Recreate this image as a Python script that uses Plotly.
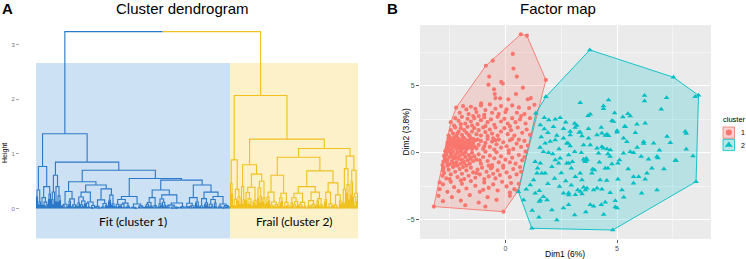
import plotly.graph_objects as go

W, H = 746, 259

# ---------------- dendrogram data ----------------
# internal node: (merge height, left, right); bundle of leaves: [n_leaves, top merge height]
BLUE_TREE = (1.37,
    (0.77, [5, 0.34], [10, 0.40]),
    (0.85,
        (0.61, [4, 0.30], [6, 0.40]),
        (0.70,
            (0.49, [16, 0.31], (0.43, [18, 0.30], [20, 0.36])),
            (0.55, [30, 0.22],
                (0.52, (0.34, [13, 0.20], [27, 0.25]),
                       (0.43, [15, 0.20], (0.30, [8, 0.18], [22, 0.22])))))))
YELLOW_TREE = (2.07,
    (0.89, [3, 0.46], [8, 0.35]),
    (1.27,
        (0.80, [4, 0.40], (0.63, [12, 0.39], [9, 0.50])),
        (1.10,
            (0.94, (0.61, [12, 0.30], [12, 0.28]),
                   (0.69, (0.40, [16, 0.28], [18, 0.30]),
                          (0.47, [9, 0.30], [9, 0.25]))),
            (0.96, [8, 0.73], [8, 0.70]))))
ROOT_HEIGHT = 3.24
FUZZ_RATIOS = [0.62, 0.35, 0.80, 0.45, 0.55, 0.28, 0.70, 0.40, 0.50, 0.66, 0.30,
               0.58, 0.75, 0.38, 0.48, 0.60, 0.33, 0.52, 0.44, 0.68, 0.25, 0.57]
SPLIT_FRACTIONS = [0.5, 0.35, 0.6, 0.45, 0.7, 0.3, 0.55, 0.4, 0.65]
HEIGHT_TICKS = [0, 1, 2, 3]
CLUSTER_NAMES = ["Fit (cluster 1)", "Frail (cluster 2)"]
BAND_TOP, BAND_BOTTOM = 2.665, -0.55

# ---------------- factor map data ----------------
red_points = [
    (0.69, 8.86), (0.96, 8.75), (-0.57, 6.89), (-0.88, 6.51), (0.33, 7.39), (0.36, 6.30),
    (1.81, 5.45), (0.51, 5.70), (-0.73, 5.70), (-0.76, 5.10), (-0.19, 5.30), (-0.12, 5.18),
    (-0.51, 4.75), (0.78, 4.87), (0.47, 4.40), (-0.48, 4.40), (-0.45, 4.10), (-0.24, 4.08),
    (0.13, 4.00), (1.14, 4.10), (1.00, 4.00), (-1.09, 3.70), (-0.70, 3.62), (1.30, 3.60),
    (-2.21, 3.38), (-1.90, 3.50), (-1.75, 3.25), (-1.55, 3.45), (-1.35, 3.30), (-1.10, 3.55),
    (-0.90, 3.20), (-0.45, 3.30), (-0.20, 3.50), (0.05, 3.25), (0.30, 3.55), (0.60, 3.40),
    (1.06, 3.35), (-2.05, 3.00), (-1.65, 2.90), (-1.30, 3.05), (-0.95, 2.85), (-0.60, 3.00),
    (-0.30, 2.90), (0.00, 3.05), (0.51, 3.00), (0.85, 2.90), (-1.45, 2.75),
    (-2.45, 2.30), (-2.25, 2.60), (-2.10, 2.40), (-1.95, 2.70), (-1.80, 2.20), (-1.70, 2.55),
    (-1.55, 2.35), (-1.40, 2.60), (-1.25, 2.15), (-1.10, 2.45), (-0.95, 2.65), (-0.80, 2.30),
    (-0.65, 2.50), (-0.50, 2.10), (-0.35, 2.70), (-0.20, 2.35), (-0.05, 2.55), (0.10, 2.20),
    (0.30, 2.60), (0.45, 2.30), (0.65, 2.50), (0.90, 2.20), (1.10, 2.60), (-2.30, 2.05),
    (-1.50, 2.05), (-0.90, 2.00), (0.20, 2.00), (-2.00, 2.15), (-1.20, 2.75), (0.70, 2.75),
    (-2.55, 1.30), (-2.45, 1.70), (-2.35, 1.45), (-2.25, 1.90), (-2.20, 1.25), (-2.10, 1.60),
    (-2.00, 1.85), (-1.95, 1.35), (-1.85, 1.70), (-1.75, 1.50), (-1.70, 1.95), (-1.60, 1.25),
    (-1.50, 1.60), (-1.40, 1.85), (-1.30, 1.40), (-1.20, 1.70), (-1.10, 1.30), (-1.00, 1.90),
    (-0.90, 1.55), (-0.80, 1.25), (-0.70, 1.75), (-0.60, 1.45), (-0.45, 1.90), (-0.35, 1.30),
    (-0.20, 1.60), (-0.05, 1.85), (0.10, 1.40), (0.25, 1.70), (0.40, 1.30), (0.55, 1.90),
    (0.75, 1.50), (0.95, 1.75), (1.10, 1.35), (-2.40, 1.05), (-1.90, 1.15), (-1.45, 1.05),
    (-0.55, 1.10), (0.30, 1.05), (-2.15, 1.45), (-1.65, 1.35),
    (-2.60, 0.60), (-2.55, 0.95), (-2.65, 0.30), (-2.60, 0.75), (-2.55, 1.10), (-2.55, 0.45),
    (-2.50, 0.85), (-2.45, 0.25), (-2.45, 0.60), (-2.40, 1.00), (-2.35, 0.40), (-2.30, 0.75),
    (-2.30, 1.15), (-2.25, 0.55), (-2.20, 0.90), (-2.20, 0.30), (-2.15, 0.70), (-2.10, 1.05),
    (-2.10, 0.45), (-2.05, 0.80), (-2.00, 0.55), (-2.00, 0.20), (-1.95, 0.95), (-1.90, 0.65),
    (-1.90, 0.35), (-1.85, 1.10), (-1.80, 0.80), (-1.80, 0.50), (-1.75, 0.25), (-1.70, 0.95),
    (-1.70, 0.60), (-1.65, 0.40), (-1.60, 0.80), (-1.55, 1.05), (-1.55, 0.55), (-1.50, 0.30),
    (-1.45, 0.75), (-1.40, 0.50), (-1.35, 0.95), (-1.30, 0.35), (-2.50, 1.15), (-2.15, 0.95),
    (-1.95, 0.45), (-2.40, 0.70), (-2.20, 0.60), (-2.05, 0.35), (-1.85, 0.75), (-2.60, 0.50),
    (-2.30, 0.95),
    (-1.20, 0.60), (-1.10, 0.90), (-1.00, 0.30), (-0.90, 0.75), (-0.80, 1.05), (-0.70, 0.45),
    (-0.60, 0.85), (-0.50, 0.25), (-0.40, 0.65), (-0.30, 1.00), (-0.20, 0.40), (-0.10, 0.80),
    (0.05, 0.50), (0.20, 0.95), (0.35, 0.30), (0.50, 0.70), (0.70, 0.45), (0.85, 0.90),
    (1.00, 0.55), (-0.95, 0.50), (-0.45, 0.95), (0.15, 0.20), (-1.25, 1.00), (0.60, 1.00),
    (-2.75, -0.20), (-2.78, -0.65), (-2.70, 0.12), (-2.82, -0.90), (-2.72, -0.35), (-2.65, 0.00),
    (-2.62, -0.70), (-2.65, -0.15), (-2.60, -0.50), (-2.55, 0.15), (-2.50, -0.85), (-2.50, -0.30),
    (-2.45, -0.05), (-2.40, -0.60), (-2.35, 0.10), (-2.30, -0.40), (-2.30, -0.95), (-2.25, -0.15),
    (-2.20, -0.70), (-2.15, 0.05), (-2.10, -0.45), (-2.05, -0.20), (-2.00, -0.80), (-2.00, 0.10),
    (-1.95, -0.50), (-1.90, -0.10), (-1.85, -0.75), (-1.80, -0.30), (-1.80, 0.05), (-1.75, -0.95),
    (-1.70, -0.55), (-1.65, -0.15), (-1.60, -0.80), (-1.55, -0.35), (-1.50, 0.00), (-1.45, -0.60),
    (-1.40, -0.25), (-2.60, -0.95), (-2.40, -0.25), (-2.15, -0.95), (-1.90, -0.60), (-2.68, -0.50),
    (-2.20, -0.35), (-1.60, -0.45), (-2.35, -0.75),
    (-1.30, -0.50), (-1.20, -0.10), (-1.10, -0.80), (-1.00, -0.30), (-0.90, 0.10), (-0.80, -0.60),
    (-0.70, -0.20), (-0.60, -0.90), (-0.50, -0.40), (-0.40, 0.05), (-0.30, -0.70), (-0.20, -0.25),
    (-0.10, -0.95), (0.00, -0.50), (0.15, 0.00), (0.30, -0.35), (0.45, -0.80), (0.60, -0.15),
    (0.75, -0.55), (0.90, 0.10), (0.85, -0.30), (-1.15, -0.55), (-0.75, -0.95), (0.20, -0.70),
    (-2.80, -1.30), (-2.82, -1.70), (-2.78, -1.10), (-2.75, -1.50), (-2.65, -1.90), (-2.55, -1.25),
    (-2.45, -1.60), (-2.35, -1.05), (-2.25, -1.40), (-2.15, -1.80), (-2.05, -1.20), (-1.95, -1.55),
    (-1.85, -1.95), (-1.75, -1.30), (-1.65, -1.70), (-1.55, -1.10), (-1.45, -1.45), (-1.35, -1.85),
    (-1.25, -1.25), (-1.15, -1.60), (-1.05, -1.10), (-0.95, -1.95), (-0.85, -1.40), (-0.75, -1.75),
    (-0.65, -1.15), (-0.55, -1.55), (-0.45, -1.90), (-0.35, -1.30), (-0.25, -1.65), (-0.10, -1.10),
    (0.05, -1.45), (0.20, -1.80), (0.35, -1.20), (0.50, -1.60), (0.65, -1.05), (0.70, -1.40),
    (-2.50, -1.95), (-1.90, -1.05), (-1.30, -1.50), (-0.60, -1.05),
    (-2.95, -2.20), (-2.95, -2.70), (-2.80, -2.35), (-2.60, -2.90), (-2.45, -2.15), (-2.30, -2.55),
    (-2.10, -2.85), (-1.95, -2.30), (-1.75, -2.65), (-1.55, -2.10), (-1.35, -2.45), (-1.15, -2.90),
    (-0.95, -2.20), (-0.75, -2.60), (-0.55, -2.35), (-0.35, -2.80), (-0.15, -2.15), (0.05, -2.50),
    (0.25, -2.25), (0.40, -2.70), (0.55, -2.85), (0.60, -2.30), (-2.00, -2.05), (-1.00, -2.75),
    (0.20, -2.95),
    (-3.21, -4.00), (-3.00, -3.20), (-2.80, -3.60), (-2.40, -3.30), (-2.00, -3.55), (-1.60, -3.15),
    (-1.20, -3.70), (-0.80, -3.30), (-0.40, -3.50), (-0.09, -4.38), (0.20, -3.20), (-1.80, -3.90),
    (-0.90, -4.00),
]

teal_points = [
    (3.78, 7.69), (7.53, 5.65), (8.65, 4.30), (8.50, 4.20), (1.81, 4.20), (1.36, 2.96),
    (6.23, 4.28), (6.23, 3.88), (7.22, 4.13), (3.35, 3.75), (4.62, 3.96), (4.39, 3.50),
    (4.39, 3.30), (3.80, 2.89), (3.70, 2.78), (4.89, 2.99), (5.26, 2.69), (5.49, 2.93),
    (5.59, 2.76), (6.98, 3.26), (4.77, 2.41), (5.89, 2.14), (6.26, 2.22), (5.34, 1.98),
    (3.10, 2.20), (3.20, 2.05), (3.12, 1.90), (4.29, 1.90), (3.72, 1.80), (5.00, 1.66),
    (3.35, 1.55), (8.06, 1.60), (5.82, 1.50), (1.74, 2.63), (1.94, 2.46), (2.23, 2.51),
    (2.45, 2.63), (1.74, 1.79), (1.56, 2.09), (2.15, 1.96), (4.84, 2.34), (5.37, 1.96),
    (2.70, 2.30), (2.90, 1.60),
    (3.72, 1.10), (4.10, 1.34), (4.55, 1.40), (3.80, 0.60), (4.32, 0.47), (4.70, 0.22),
    (5.29, -0.02), (5.44, 0.84), (6.19, 0.84), (6.64, 0.72), (7.24, 1.22), (8.10, 1.45),
    (7.39, 0.77), (8.10, 0.28), (8.40, -0.22), (7.61, -0.57), (6.79, -0.27),
    (3.30, 1.52), (3.43, 1.27), (4.32, 1.47), (4.47, 1.30), (4.62, 1.28), (5.00, 1.55),
    (5.29, 1.10), (6.19, 0.70), (2.80, 0.72), (2.90, 0.52), (3.50, 0.60), (4.10, 0.35),
    (4.39, 0.35), (4.55, 0.30), (3.40, 0.02), (4.17, -0.03), (4.59, -0.08), (4.69, -0.27),
    (5.59, 0.10), (5.74, 0.02), (6.08, -0.27), (6.41, -0.47), (6.83, -0.37), (7.64, -0.57),
    (3.50, -0.47), (3.58, -0.65), (3.65, -0.52), (3.55, -0.57), (3.62, -0.42), (3.00, -0.65),
    (2.83, -0.77), (4.21, -0.70), (5.04, -0.77), (5.11, -0.52), (4.77, -0.82), (4.47, -1.14),
    (4.59, -1.14), (3.90, -1.22), (3.99, -1.27), (2.95, -1.14), (3.35, -1.52), (3.87, -1.52),
    (3.13, -1.77), (3.43, -2.01), (4.24, -2.01), (4.54, -2.06), (5.04, -1.96), (5.74, -1.77),
    (5.97, -1.77), (6.34, -1.52), (6.56, -1.14), (6.26, -1.96), (5.74, -2.26), (6.79, -2.76),
    (5.22, -2.76), (4.69, -2.96), (4.32, -2.71), (4.10, -2.63), (3.95, -2.76), (3.65, -2.63),
    (3.50, -2.56), (3.58, -2.76), (3.35, -2.88), (3.24, -2.76), (3.43, -3.06), (3.13, -3.11),
    (2.83, -2.98), (4.92, -3.56), (4.47, -3.68), (4.29, -3.86), (3.95, -3.98), (3.80, -3.86),
    (5.00, -4.11), (4.92, -4.03), (3.10, -4.63), (2.83, -3.86), (4.81, -5.75), (8.54, -2.14),
    (1.18, -5.62), (0.58, -2.89),
    (1.78, 0.72), (1.70, 0.10), (1.93, 0.02), (2.12, -0.07), (2.23, -0.52), (2.45, -0.40),
    (2.75, 0.72), (2.23, 0.97), (2.00, 0.85), (2.60, 1.10), (2.83, -0.15), (2.75, -0.77),
    (2.38, -0.77), (2.08, -1.02), (1.56, -0.77), (1.33, -0.65), (1.44, -1.14), (1.78, -1.52),
    (1.63, -1.52), (1.41, -1.52), (1.26, -2.01), (1.11, -2.39), (0.93, -2.71), (0.81, -3.51),
    (1.33, -3.01), (1.52, -2.81), (1.70, -3.26), (1.56, -3.51), (1.52, -3.63), (1.86, -3.51),
    (2.08, -4.25), (2.60, -3.01), (2.83, -3.13), (2.42, -2.51), (1.90, 1.50), (2.30, 1.30),
    (2.60, 1.80), (2.90, 1.35), (2.50, -1.50), (2.20, -1.90), (2.70, -2.10), (1.90, -2.30),
    (2.95, -2.40), (1.20, -4.30), (1.50, -4.80), (2.30, -5.00), (3.60, -4.40), (4.40, -4.60),
    (2.60, -4.10), (1.60, 1.20), (1.55, 0.40), (2.40, 0.30), (3.10, 0.10), (5.90, 0.40),
    (6.90, 0.20), (7.10, -1.20), (5.50, -1.20), (5.30, -3.30), (6.10, -3.00),
]

X_TICKS = [0, 5]
Y_TICKS = [-5, 0, 5]
RED, TEAL = "#F8766D", "#00BFC4"
BLUE_LINE, YELLOW_LINE = "#2C78C8", "#F0C020"

# ---------------- dendrogram layout ----------------
state = {"k": 0, "leaf": 0}


def expand(n, h):
    if n == 1:
        return "leaf"
    k = state["k"]
    state["k"] += 1
    if n == 2:
        return (h, "leaf", "leaf")
    s = SPLIT_FRACTIONS[k % len(SPLIT_FRACTIONS)]
    a = min(n - 1, max(1, round(n * s)))
    r1 = FUZZ_RATIOS[(2 * k) % len(FUZZ_RATIOS)]
    r2 = FUZZ_RATIOS[(2 * k + 1) % len(FUZZ_RATIOS)]
    return (h, expand(a, h * r1), expand(n - a, h * r2))


segs = {}


def add(color, xs, ys):
    sx, sy = segs.setdefault(color, ([], []))
    sx.extend(xs + [None])
    sy.extend(ys + [None])


def place(node, color):
    if node == "leaf":
        x = state["leaf"] + 0.5
        state["leaf"] += 1
        return x, 0.0
    if isinstance(node, list):
        return place(expand(node[0], node[1]), color)
    h, l, r = node
    xl, hl = place(l, color)
    xr, hr = place(r, color)
    x = (xl + xr) / 2
    add(color, [xl, xl, x], [hl, h, h])
    add(color, [xr, xr, x], [hr, h, h])
    return x, h


xb, hb = place(BLUE_TREE, BLUE_LINE)
n_blue = state["leaf"]
xy, hy = place(YELLOW_TREE, YELLOW_LINE)
n_total = state["leaf"]
xroot = (xb + xy) / 2
add(BLUE_LINE, [xb, xb, xroot], [hb, ROOT_HEIGHT, ROOT_HEIGHT])
add(YELLOW_LINE, [xy, xy, xroot], [hy, ROOT_HEIGHT, ROOT_HEIGHT])


# ---------------- convex hulls ----------------
def hull(pts):
    p = sorted(set(pts))

    def cross(o, a, b):
        return (a[0] - o[0]) * (b[1] - o[1]) - (a[1] - o[1]) * (b[0] - o[0])
    lower, upper = [], []
    for q in p:
        while len(lower) >= 2 and cross(lower[-2], lower[-1], q) <= 0:
            lower.pop()
        lower.append(q)
    for q in reversed(p):
        while len(upper) >= 2 and cross(upper[-2], upper[-1], q) <= 0:
            upper.pop()
        upper.append(q)
    h = lower[:-1] + upper[:-1]
    return h + [h[0]]


fig = go.Figure()

for color, (sx, sy) in segs.items():
    fig.add_trace(go.Scatter(x=sx, y=sy, mode="lines", line=dict(color=color, width=1.1),
                             hoverinfo="skip", showlegend=False, xaxis="x", yaxis="y"))

for pts, col, fill in [(red_points, RED, "rgba(248,118,109,0.22)"),
                       (teal_points, TEAL, "rgba(0,191,196,0.22)")]:
    hp = hull(pts)
    fig.add_trace(go.Scatter(x=[p[0] for p in hp], y=[p[1] for p in hp], mode="lines",
                             fill="toself", fillcolor=fill, line=dict(color=col, width=0.9),
                             hoverinfo="skip", showlegend=False, xaxis="x2", yaxis="y2"))

fig.add_trace(go.Scatter(x=[p[0] for p in red_points], y=[p[1] for p in red_points],
                         mode="markers", marker=dict(symbol="circle", size=4.2, color=RED),
                         showlegend=False, xaxis="x2", yaxis="y2"))
fig.add_trace(go.Scatter(x=[p[0] for p in teal_points], y=[p[1] for p in teal_points],
                         mode="markers", marker=dict(symbol="triangle-up", size=5, color=TEAL),
                         showlegend=False, xaxis="x2", yaxis="y2"))

# legend key markers (pixel overlay axis)
fig.add_trace(go.Scatter(x=[728.8], y=[132.5], mode="markers",
                         marker=dict(symbol="circle", size=6, color=RED),
                         showlegend=False, xaxis="x3", yaxis="y3"))
fig.add_trace(go.Scatter(x=[728.8], y=[145], mode="markers",
                         marker=dict(symbol="triangle-up", size=7, color=TEAL),
                         showlegend=False, xaxis="x3", yaxis="y3"))

shapes = [
    dict(type="rect", xref="x", yref="y", x0=0, x1=n_blue, y0=BAND_BOTTOM, y1=BAND_TOP,
         fillcolor="#CCE1F3", line=dict(width=0), layer="below"),
    dict(type="rect", xref="x", yref="y", x0=n_blue, x1=n_total, y0=BAND_BOTTOM, y1=BAND_TOP,
         fillcolor="#FCF1C8", line=dict(width=0), layer="below"),
    dict(type="rect", xref="x2 domain", yref="y2 domain", x0=0, x1=1, y0=0, y1=1,
         fillcolor="#EBEBEB", line=dict(width=0), layer="below"),
    dict(type="rect", xref="x3", yref="y3", x0=723, x1=734.5, y0=127, y1=138.3,
         fillcolor="#F4D2CF", line=dict(color=RED, width=0.8), layer="below"),
    dict(type="rect", xref="x3", yref="y3", x0=723, x1=734.5, y0=139.3, y1=150.6,
         fillcolor="#B9E5E6", line=dict(color=TEAL, width=0.8), layer="below"),
]


def ann(text, x, y, size, color="black", bold=False, angle=0, xanchor="center", family="Liberation Sans"):
    return dict(text=("<b>%s</b>" % text) if bold else text, x=x, y=y, xref="x3", yref="y3",
                showarrow=False, xanchor=xanchor, yanchor="middle", textangle=angle,
                font=dict(size=size, color=color, family=family))


annotations = [
    ann("A", 7, 8, 15, bold=True),
    ann("Cluster dendrogram", 182, 8, 15),
    ann("B", 392, 8, 15, bold=True),
    ann("Factor map", 558, 8, 15),
    ann("Height", 5, 153, 7, angle=-90),
    ann(CLUSTER_NAMES[0], 133, 221, 12, family="Lato"),
    ann(CLUSTER_NAMES[1], 294, 221, 12, family="Lato"),
    ann("Dim1 (6%)", 565, 254, 8.5),
    ann("Dim2 (3.8%)", 405.5, 132, 8.5, angle=-90),
    ann("cluster", 721, 119, 7.5, xanchor="left"),
    ann("1", 738.5, 132.5, 7, xanchor="left"),
    ann("2", 738.5, 145, 7, xanchor="left"),
]


def fx(px):
    return px / W


def fy(py):
    return (H - py) / H


HPX = 54.6
ZERO_PY = 208.5
fig.update_layout(
    width=W, height=H, autosize=False,
    margin=dict(l=0, r=0, t=0, b=0),
    paper_bgcolor="white", plot_bgcolor="rgba(0,0,0,0)",
    showlegend=False,
    shapes=shapes, annotations=annotations,
    font=dict(family="Liberation Sans"),
    xaxis=dict(domain=[fx(20), fx(358)], range=[-16, n_total], visible=False, fixedrange=True),
    yaxis=dict(domain=[fy(245), fy(20)],
               range=[(ZERO_PY - 245) / HPX, (ZERO_PY - 20) / HPX],
               tickvals=HEIGHT_TICKS, ticks="outside", ticklen=3, tickwidth=1, tickcolor="#AAAAAA",
               tickfont=dict(size=6, color="#777777"), showgrid=False, zeroline=False,
               showline=False, anchor="x"),
    xaxis2=dict(domain=[fx(420), fx(711)], range=[-3.83, 9.21], tickvals=X_TICKS,
                ticks="outside", ticklen=3, tickcolor="#333333", tickwidth=0.8,
                tickfont=dict(size=7, color="#4D4D4D"), showgrid=True, gridcolor="white",
                gridwidth=1, zeroline=False, showline=False, anchor="y2",
                minor=dict(dtick=2.5, tick0=0, showgrid=True, gridcolor="white", gridwidth=0.5)),
    yaxis2=dict(domain=[fy(239), fy(25)], range=[-6.42, 9.55], tickvals=Y_TICKS,
                ticks="outside", ticklen=3, tickcolor="#333333", tickwidth=0.8,
                tickfont=dict(size=7, color="#4D4D4D"), showgrid=True, gridcolor="white",
                gridwidth=1, zeroline=False, showline=False, anchor="x2",
                minor=dict(dtick=2.5, tick0=0, showgrid=True, gridcolor="white", gridwidth=0.5)),
    xaxis3=dict(domain=[0, 1], range=[0, W], visible=False, fixedrange=True, anchor="y3"),
    yaxis3=dict(domain=[0, 1], range=[H, 0], visible=False, fixedrange=True, anchor="x3"),
)

fig.write_html("out.html", config={"displayModeBar": False, "staticPlot": True},
               post_script="document.body.style.margin='0';document.body.style.overflow='hidden';")
